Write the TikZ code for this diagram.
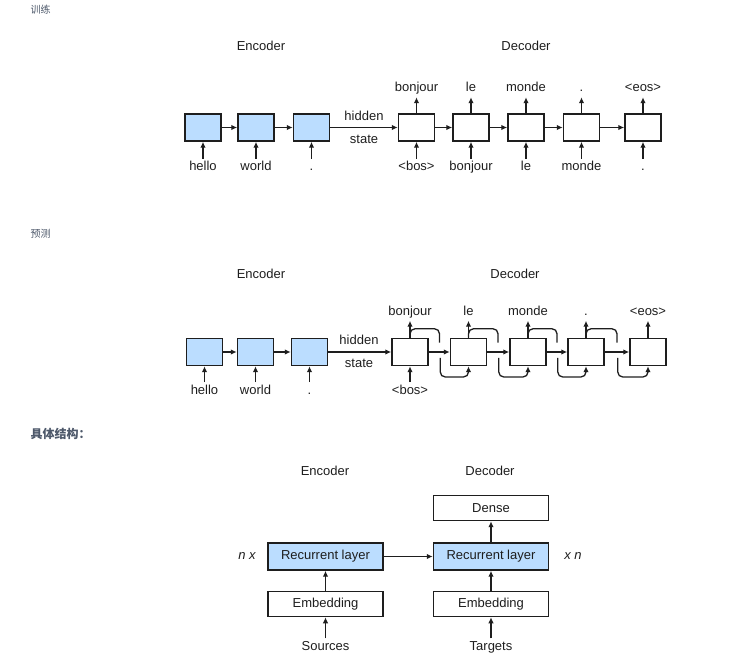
\documentclass[tikz,border=0pt]{standalone}
\usepackage{fontspec}
\setmainfont{Liberation Sans}
\newfontfamily\cjk{Noto Sans CJK SC}
\usetikzlibrary{positioning,arrows.meta}
\definecolor{rnnblue}{RGB}{187,221,255}
\definecolor{inkgray}{RGB}{30,30,30}
\definecolor{headgray}{RGB}{77,88,106}
\newcommand\lblsize{\fontsize{13}{15}\selectfont}

\begin{document}
\begin{tikzpicture}[x=1pt,y=-1pt,
        font=\lblsize, text=inkgray,
        encbox/.style={draw=inkgray, line width=1.5pt, fill=rnnblue, minimum width=36pt, minimum height=27pt, inner sep=0pt},
        decbox/.style={encbox, fill=white},
        lbl/.style={inner sep=3pt, text height=9pt, text depth=2.5pt},
        arr/.style={draw=inkgray, line width=1.3pt, -{Latex[length=6pt,width=5.5pt]}},
        ln/.style={draw=inkgray, line width=1.3pt, rounded corners=5pt}]
        \useasboundingbox (0,0) rectangle (740,668);

        % headings
        \node[font=\cjk\fontsize{10}{12}\selectfont, text=headgray, anchor=west] (train) at (27,10) {训练};
        \node[font=\cjk\fontsize{10}{12}\selectfont, text=headgray, anchor=west] (pred) at (27,234) {预测};
        \node[font=\cjk\bfseries\fontsize{12}{14}\selectfont, text=headgray, anchor=west] (struct) at (27,434) {具体结构：};

        %% training
        \node[anchor=base] (enc1) at (261,51) {Encoder};
        \node[anchor=base] (dec1) at (526,51) {Decoder};

        \node[encbox] (ta) at (203,127.5) {};
        \node[encbox] (tb) at (256,127.5) {};
        \node[encbox] (tc) at (311.5,127.5) {};
        \node[decbox] (td1) at (416.5,127.5) {};
        \node[decbox] (td2) at (471,127.5) {};
        \node[decbox] (td3) at (526,127.5) {};
        \node[decbox] (td4) at (581.5,127.5) {};
        \node[decbox] (td5) at (643,127.5) {};

        \node[lbl, below=17pt of ta] (tia) {hello};
        \node[lbl, below=17pt of tb] (tib) {world};
        \node[lbl, below=17pt of tc] (tic) {.};
        \node[lbl, below=17pt of td1] (ti1) {<bos>};
        \node[lbl, below=17pt of td2] (ti2) {bonjour};
        \node[lbl, below=17pt of td3] (ti3) {le};
        \node[lbl, below=17pt of td4] (ti4) {monde};
        \node[lbl, below=17pt of td5] (ti5) {.};

        \node[lbl, above=16pt of td1] (to1) {bonjour};
        \node[lbl, above=16pt of td2] (to2) {le};
        \node[lbl, above=16pt of td3] (to3) {monde};
        \node[lbl, above=16pt of td4] (to4) {.};
        \node[lbl, above=16pt of td5] (to5) {<eos>};

        \node[anchor=base] (thid) at (364,121) {hidden};
        \node[anchor=base] (tsta) at (364,144) {state};

        \draw[arr] (ta) -- (tb);
        \draw[arr] (tb) -- (tc);
        \draw[arr] (tc) -- (td1);
        \draw[arr] (td1) -- (td2);
        \draw[arr] (td2) -- (td3);
        \draw[arr] (td3) -- (td4);
        \draw[arr] (td4) -- (td5);

        \draw[arr] (tia) -- (ta);
        \draw[arr] (tib) -- (tb);
        \draw[arr] (tic) -- (tc);
        \draw[arr] (ti1) -- (td1);
        \draw[arr] (ti2) -- (td2);
        \draw[arr] (ti3) -- (td3);
        \draw[arr] (ti4) -- (td4);
        \draw[arr] (ti5) -- (td5);

        \draw[arr] (td1) -- (to1);
        \draw[arr] (td2) -- (to2);
        \draw[arr] (td3) -- (to3);
        \draw[arr] (td4) -- (to4);
        \draw[arr] (td5) -- (to5);

        %% prediction
        \node[anchor=base] (enc2) at (261,279) {Encoder};
        \node[anchor=base] (dec2) at (515,279) {Decoder};

        \node[encbox] (pa) at (204.5,352) {};
        \node[encbox] (pb) at (255.5,352) {};
        \node[encbox] (pc) at (309.5,352) {};
        \node[decbox] (pd1) at (410,352) {};
        \node[decbox] (pd2) at (468.5,352) {};
        \node[decbox] (pd3) at (528,352) {};
        \node[decbox] (pd4) at (586,352) {};
        \node[decbox] (pd5) at (648,352) {};

        \node[lbl, below=16pt of pa] (pia) {hello};
        \node[lbl, below=16pt of pb] (pib) {world};
        \node[lbl, below=16pt of pc] (pic) {.};
        \node[lbl, below=16pt of pd1] (pi1) {<bos>};

        \node[lbl, above=17pt of pd1] (po1) {bonjour};
        \node[lbl, above=17pt of pd2] (po2) {le};
        \node[lbl, above=17pt of pd3] (po3) {monde};
        \node[lbl, above=17pt of pd4] (po4) {.};
        \node[lbl, above=17pt of pd5] (po5) {<eos>};

        \node[anchor=base] (phid) at (359,345) {hidden};
        \node[anchor=base] (psta) at (359,368) {state};

        \draw[arr] (pa) -- (pb);
        \draw[arr] (pb) -- (pc);
        \draw[arr] (pc) -- (pd1);
        \draw[arr] (pd1) -- (pd2);
        \draw[arr] (pd2) -- (pd3);
        \draw[arr] (pd3) -- (pd4);
        \draw[arr] (pd4) -- (pd5);

        \draw[arr] (pia) -- (pa);
        \draw[arr] (pib) -- (pb);
        \draw[arr] (pic) -- (pc);
        \draw[arr] (pi1) -- (pd1);

        \draw[arr] (pd1) -- (po1);
        \draw[arr] (pd2) -- (po2);
        \draw[arr] (pd3) -- (po3);
        \draw[arr] (pd4) -- (po4);
        \draw[arr] (pd5) -- (po5);

        % output fed back as next input
        \draw[ln] (pd1.north) -- ++(0,-9) -- ++(29.5,0) -- ++(0,14);
        \draw[arr, rounded corners=5pt] ([xshift=11.5pt,yshift=-6pt]pd1.east) -- ++(0,19) -| (pd2.south);
        \draw[ln] (pd2.north) -- ++(0,-9) -- ++(29.5,0) -- ++(0,14);
        \draw[arr, rounded corners=5pt] ([xshift=11.5pt,yshift=-6pt]pd2.east) -- ++(0,19) -| (pd3.south);
        \draw[ln] (pd3.north) -- ++(0,-9) -- ++(29,0) -- ++(0,14);
        \draw[arr, rounded corners=5pt] ([xshift=11pt,yshift=-6pt]pd3.east) -- ++(0,19) -| (pd4.south);
        \draw[ln] (pd4.north) -- ++(0,-9) -- ++(31,0) -- ++(0,14);
        \draw[arr, rounded corners=5pt] ([xshift=13pt,yshift=-6pt]pd4.east) -- ++(0,19) -| (pd5.south);

        %% structure
        \node[anchor=base] (enc3) at (325,476) {Encoder};
        \node[anchor=base] (dec3) at (490,476) {Decoder};

        \node[encbox, minimum width=115pt] (erec) at (325.5,556.5) {Recurrent layer};
        \node[decbox, minimum width=115pt, minimum height=25pt, below=20pt of erec] (eemb) {Embedding};
        \node[lbl, below=21pt of eemb] (src) {Sources};

        \node[encbox, minimum width=115pt] (drec) at (491,556.5) {Recurrent layer};
        \node[decbox, minimum width=115pt, minimum height=25pt, below=20pt of drec] (demb) {Embedding};
        \node[decbox, minimum width=115pt, minimum height=25pt, above=21pt of drec] (dense) {Dense};
        \node[lbl, below=21pt of demb] (tgt) {Targets};

        \node[font=\lblsize\itshape] (nx) at (247,556) {n x};
        \node[font=\lblsize\itshape] (xn) at (573,556) {x n};

        \draw[arr] (src) -- (eemb);
        \draw[arr] (eemb) -- (erec);
        \draw[arr] (erec) -- (drec);
        \draw[arr] (tgt) -- (demb);
        \draw[arr] (demb) -- (drec);
        \draw[arr] (drec) -- (dense);
\end{tikzpicture}
\end{document}
